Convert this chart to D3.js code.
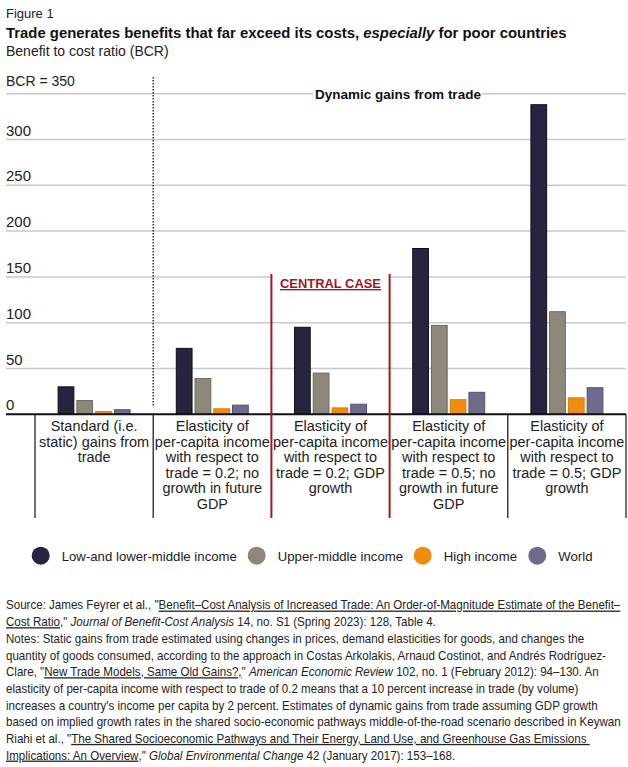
<!DOCTYPE html>
<html>
<head>
<meta charset="utf-8">
<script src="https://cdn.jsdelivr.net/npm/d3@7"></script>
<style>
  body { margin: 0; background: #fff; }
  svg { display: block; font-family: "Liberation Sans", Arial, sans-serif; }
</style>
</head>
<body>
<svg id="chart"></svg>
<script>

// Data
const categories = ["static", "e02_nogrowth", "e02_growth", "e05_nogrowth", "e05_growth"];
const categoryLabels = [
    ["Standard (i.e.", "static) gains from", "trade"],
    ["Elasticity of", "per-capita income", "with respect to", "trade = 0.2; no", "growth in future", "GDP"],
    ["Elasticity of", "per-capita income", "with respect to", "trade = 0.2; GDP", "growth"],
    ["Elasticity of", "per-capita income", "with respect to", "trade = 0.5; no", "growth in future", "GDP"],
    ["Elasticity of", "per-capita income", "with respect to", "trade = 0.5; GDP", "growth"]
];
const seriesNames = ["Low-and lower-middle income", "Upper-middle income", "High income", "World"];
const lowIncome = [30, 72, 95, 181, 338];
const upperMiddle = [15, 39, 45, 97, 112];
const highIncome = [3, 6, 7, 16, 18];
const world = [5, 10, 11, 24, 29];
const yTicks = [0, 50, 100, 150, 200, 250, 300, 350];

const colors = ["#282440", "#8e877c", "#f08c10", "#706a8d"];
const strokes = ["#111018", "#6f695f", "#e08000", "#56516f"];

const width = 628;
const height = 767;

const svg = d3.select("#chart")
    .attr("width", width)
    .attr("height", height);

// Scales
const x0 = d3.scaleBand()
    .domain(categories)
    .range([35, 626])
    .padding(0);

const x1 = d3.scaleBand()
    .domain(d3.range(4))
    .range([x0.bandwidth() / 2 - 37.5, x0.bandwidth() / 2 + 37.5])
    .paddingInner(0.16)
    .paddingOuter(0.08);

const y = d3.scaleLinear()
    .domain([0, 350])
    .range([414.3, 93.7]);

// squeeze a text horizontally so it is w pixels wide
function squeeze(sel, x, w) {
    const len = sel.node().getComputedTextLength();
    sel.attr("transform", "translate(" + x + ",0) scale(" + (w / len) + ",1)");
}

// Titles
svg.append("text")
    .attr("x", 6).attr("y", 17.5)
    .style("font-size", "13px")
    .attr("fill", "#222")
    .text("Figure 1");

const title = svg.append("text")
    .attr("x", 0).attr("y", 38.5)
    .style("font-size", "15.5px")
    .style("font-weight", "bold")
    .attr("fill", "#111")
    .attr("xml:space", "preserve");
title.append("tspan").text("Trade generates benefits that far exceed its costs, ");
title.append("tspan").style("font-style", "italic").text("especially");
title.append("tspan").text(" for poor countries");
squeeze(title, 6, 561);

svg.append("text")
    .attr("x", 6).attr("y", 56)
    .style("font-size", "14px")
    .attr("fill", "#222")
    .text("Benefit to cost ratio (BCR)");

// Gridlines
svg.selectAll(".grid")
    .data(yTicks.filter(d => d > 0))
    .enter()
    .append("line")
    .attr("class", "grid")
    .attr("x1", 6).attr("x2", 626)
    .attr("y1", d => y(d)).attr("y2", d => y(d))
    .attr("stroke", "#c9c9c9")
    .attr("stroke-width", 1.5);

svg.selectAll(".tick-label")
    .data(yTicks)
    .enter()
    .append("text")
    .attr("class", "tick-label")
    .attr("x", 6)
    .attr("y", d => d === 350 ? 86 : y(d) - 4)
    .style("font-size", d => d === 350 ? "14px" : "15px")
    .attr("fill", "#222")
    .text(d => d === 350 ? "BCR = 350" : d);

// Dynamic gains label
svg.append("rect")
    .attr("x", 313).attr("y", y(350) - 9)
    .attr("width", 169).attr("height", 18)
    .attr("fill", "#fff");

svg.append("text")
    .attr("x", 398).attr("y", y(350) + 5)
    .style("text-anchor", "middle")
    .style("font-size", "13.5px")
    .style("font-weight", "bold")
    .attr("fill", "#111")
    .text("Dynamic gains from trade");

// Dotted divider between static and dynamic
svg.append("line")
    .attr("x1", x0("e02_nogrowth")).attr("x2", x0("e02_nogrowth"))
    .attr("y1", 77).attr("y2", 407)
    .attr("stroke", "#111")
    .attr("stroke-width", 1.3)
    .attr("stroke-dasharray", "1.6,1.4");

// Central case box
const cx0 = x0("e02_growth");
const cx1 = x0("e05_nogrowth");
svg.append("rect")
    .attr("x", cx0).attr("y", 272)
    .attr("width", cx1 - cx0).attr("height", 20)
    .attr("fill", "#fff");

svg.append("text")
    .attr("x", (cx0 + cx1) / 2)
    .attr("y", 288)
    .style("text-anchor", "middle")
    .style("font-size", "13.5px")
    .style("font-weight", "bold")
    .style("text-decoration", "underline")
    .attr("fill", "#a3171f")
    .attr("textLength", 101)
    .attr("lengthAdjust", "spacingAndGlyphs")
    .text("CENTRAL CASE");

// Bars
const seriesValues = [lowIncome, upperMiddle, highIncome, world];
const barData = [];
categories.forEach((c, i) => {
    seriesValues.forEach((vals, s) => {
        barData.push({ cat: c, s: s, value: vals[i] });
    });
});

svg.selectAll(".bar")
    .data(barData)
    .enter()
    .append("rect")
    .attr("class", "bar")
    .attr("x", d => x0(d.cat) + x1(d.s))
    .attr("y", d => y(d.value))
    .attr("width", x1.bandwidth())
    .attr("height", d => y(0) - y(d.value))
    .attr("fill", d => colors[d.s])
    .attr("stroke", d => strokes[d.s])
    .attr("stroke-width", 1);

// Baseline
svg.append("line")
    .attr("x1", 6).attr("x2", 626)
    .attr("y1", y(0)).attr("y2", y(0))
    .attr("stroke", "#111")
    .attr("stroke-width", 2);

// Category separators
const seps = categories.map(c => x0(c)).concat([x0.range()[1]]);
svg.selectAll(".sep")
    .data(seps)
    .enter()
    .append("line")
    .attr("class", "sep")
    .attr("x1", d => d).attr("x2", d => d)
    .attr("y1", (d, i) => (i === 2 || i === 3) ? 274 : y(0))
    .attr("y2", 518)
    .attr("stroke", (d, i) => (i === 2 || i === 3) ? "#a3171f" : "#111")
    .attr("stroke-width", (d, i) => (i === 2 || i === 3) ? 2 : 1.2);

// Category labels
const labelSize = 14.5;
const probe = svg.append("text").style("font-size", labelSize + "px").text("per-capita income");
const labelK = Math.min(1, 115 / probe.node().getComputedTextLength());
probe.remove();

categories.forEach((c, i) => {
    const cx = x0(c) + x0.bandwidth() / 2;
    const t = svg.append("text")
        .attr("y", 431)
        .attr("transform", "translate(" + cx + ",0) scale(" + labelK + ",1)")
        .style("text-anchor", "middle")
        .style("font-size", labelSize + "px")
        .attr("fill", "#222");
    t.selectAll("tspan")
        .data(categoryLabels[i])
        .enter()
        .append("tspan")
        .attr("x", 0)
        .attr("dy", (d, j) => j === 0 ? 0 : 15.6)
        .text(d => d);
});

// Legend
const legendX = [40.7, 256.7, 422.7, 537.3];
const legend = svg.selectAll(".legend")
    .data(seriesNames)
    .enter()
    .append("g")
    .attr("class", "legend")
    .attr("transform", (d, i) => "translate(" + legendX[i] + ",555.7)");

legend.append("circle")
    .attr("r", 9)
    .attr("fill", (d, i) => colors[i]);

legend.append("text")
    .attr("x", 21)
    .attr("y", 5)
    .style("font-size", "13.2px")
    .attr("fill", "#222")
    .text(d => d);

// Source and notes
const footerLines = [
    [["Source: James Feyrer et al., \""], ["Benefit–Cost Analysis of Increased Trade: An Order-of-Magnitude Estimate of the Benefit–", "u"]],
    [["Cost Ratio", "u"], [",\" "], ["Journal of Benefit-Cost Analysis", "i"], [" 14, no. S1 (Spring 2023): 128, Table 4."]],
    [["Notes: Static gains from trade estimated using changes in prices, demand elasticities for goods, and changes the"]],
    [["quantity of goods consumed, according to the approach in Costas Arkolakis, Arnaud Costinot, and Andrés Rodríguez-"]],
    [["Clare, \""], ["New Trade Models, Same Old Gains?,", "u"], ["\" "], ["American Economic Review", "i"], [" 102, no. 1 (February 2012): 94–130. An"]],
    [["elasticity of per-capita income with respect to trade of 0.2 means that a 10 percent increase in trade (by volume)"]],
    [["increases a country's income per capita by 2 percent. Estimates of dynamic gains from trade assuming GDP growth"]],
    [["based on implied growth rates in the shared socio-economic pathways middle-of-the-road scenario described in Keywan"]],
    [["Riahi et al., \""], ["The Shared Socioeconomic Pathways and Their Energy, Land Use, and Greenhouse Gas Emissions ", "u"]],
    [["Implications: An Overview", "u"], [",\" "], ["Global Environmental Change", "i"], [" 42 (January 2017): 153–168."]]
];

const footer = svg.append("g");
footerLines.forEach((parts, i) => {
    const t = footer.append("text")
        .attr("x", 0)
        .attr("y", 609.5 + i * 16.67)
        .style("font-size", "13px")
        .attr("fill", "#222")
        .attr("xml:space", "preserve");
    parts.forEach(p => {
        t.append("tspan")
            .style("text-decoration", p[1] === "u" ? "underline" : null)
            .style("font-style", p[1] === "i" ? "italic" : null)
            .text(p[0]);
    });
});

// squeeze footer so the first line spans the same width as the original
const firstLen = footer.select("text").node().getComputedTextLength();
const k = 615 / firstLen;
footer.attr("transform", "translate(6,0) scale(" + k + ",1)");

</script>
</body>
</html>
